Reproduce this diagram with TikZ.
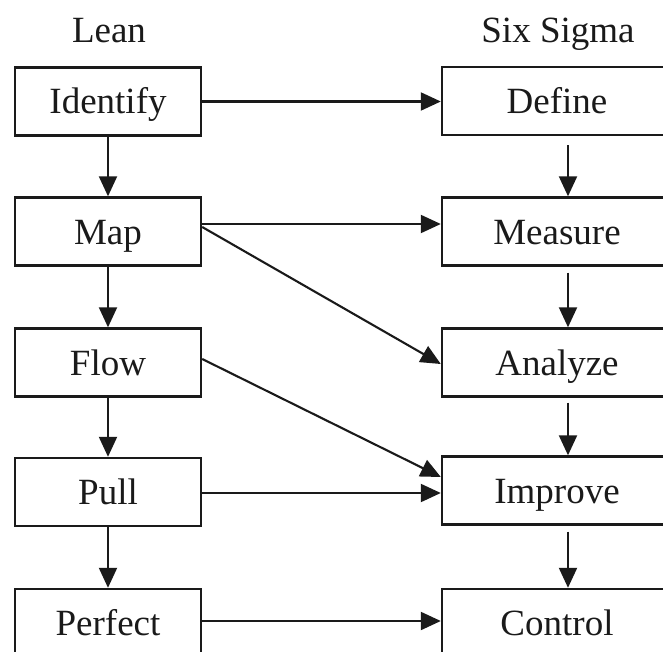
\documentclass[tikz,border=0pt]{standalone}
\usepackage{fontspec}
\setmainfont{Liberation Serif}
\usetikzlibrary{arrows.meta}

\definecolor{ink}{HTML}{1A1A1A}

\tikzset{
  label font/.style={font=\fontsize{37}{44}\selectfont, text=ink},
  heading/.style={label font, anchor=base, inner sep=0pt},
  stepbox/.style={draw=ink, line width=2.4pt, label font,
    minimum height=68pt, inner sep=0pt,
    text height=25pt, text depth=0pt},
  leanbox/.style={stepbox, minimum width=186pt},
  sigmabox/.style={stepbox, minimum width=230pt},
  link/.style={draw=ink, line width=2.1pt,
    -{Triangle[length=20pt, width=18pt]}},
}

\begin{document}
\begin{tikzpicture}[x=1pt, y=-1pt]
  \useasboundingbox (0,0) rectangle (663,652);
  \clip (0,0) rectangle (663,652);

  % column headings
  \node[heading] (leanhead)  at (109,42.7) {Lean};
  \node[heading] (sigmahead) at (558,42.7) {Six Sigma};

  % Lean steps
  \node[leanbox] (idf) at (108,101.5) {Identify};
  \node[leanbox] (map) at (108,231.5) {Map};
  \node[leanbox] (flo) at (108,362.5) {Flow};
  \node[leanbox] (pul) at (108,492)   {Pull};
  \node[leanbox] (per) at (108,623)   {Perfect};

  % Six Sigma (DMAIC) steps
  \node[sigmabox] (def) at (557,101)   {Define};
  \node[sigmabox] (mea) at (557,231.5) {Measure};
  \node[sigmabox] (ana) at (557,362.5) {Analyze};
  \node[sigmabox] (imp) at (557,490.5) {Improve};
  \node[sigmabox] (con) at (557,623)   {Control};

  % Lean sequence
  \draw[link] (idf.south) -- (map.north);
  \draw[link] (map.south) -- (flo.north);
  \draw[link] (flo.south) -- (pul.north);
  \draw[link] (pul.south) -- (per.north);

  % Six Sigma sequence
  \draw[link, shorten <=9pt] ([xshift=11pt]def.south) -- ([xshift=11pt]mea.north);
  \draw[link, shorten <=6pt] ([xshift=11pt]mea.south) -- ([xshift=11pt]ana.north);
  \draw[link, shorten <=5pt] ([xshift=11pt]ana.south) -- ([xshift=11pt]imp.north);
  \draw[link, shorten <=6pt] ([xshift=11pt]imp.south) -- ([xshift=11pt]con.north);

  % Lean -> Six Sigma correspondences
  \draw[link] (idf.east) -- ([yshift=-0.5pt]def.west);
  \draw[link] ([yshift=7.5pt]map.east) -- ([yshift=7.5pt]mea.west);
  \draw[link] ([yshift=4.5pt]map.east) -- ([yshift=-1.5pt]ana.west);
  \draw[link] ([yshift=3.5pt]flo.east) -- ([yshift=13.5pt]imp.west);
  \draw[link] ([yshift=-1pt]pul.east) -- ([yshift=-2.5pt]imp.west);
  \draw[link] ([yshift=2pt]per.east) -- ([yshift=2pt]con.west);
\end{tikzpicture}
\end{document}
